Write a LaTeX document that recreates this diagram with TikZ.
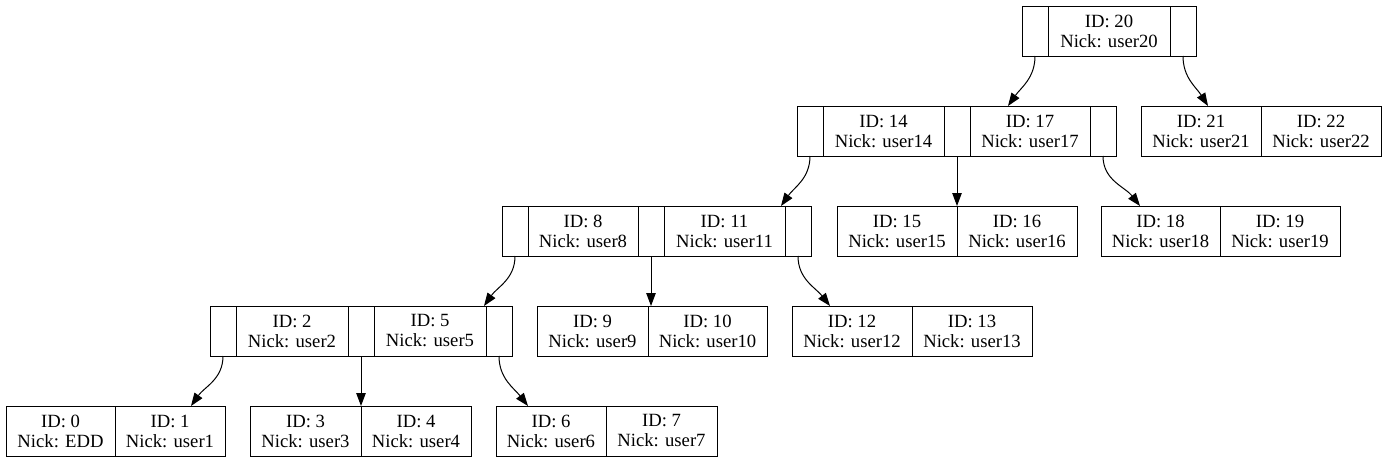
\documentclass[tikz,border=0pt]{standalone}
\usepackage{fontspec}
\setmainfont{Liberation Serif}
\usetikzlibrary{positioning, arrows.meta}

\begin{document}
\begin{tikzpicture}[
    x=1pt, y=-1pt,
    >={Triangle[length=13pt, width=9.5pt]},
    cell/.style={draw, line width=1pt, outer sep=0pt, inner sep=0pt,
                 minimum height=50pt, align=center,
                 font=\fontsize{18.67}{20}\selectfont},
    ptrcell/.style={cell, minimum width=26pt},
    keycell/.style={cell, minimum width=#1pt},
    link/.style={->, line width=1pt}
  ]
    \useasboundingbox (0,0) rectangle (1386,463);

    % --- Raiz ---
    \node[ptrcell, anchor=west] (p20l) at (1022,31) {};
    \node[keycell=122, right=0pt of p20l] (k20) {ID: 20\\Nick: user20};
    \node[ptrcell, right=0pt of k20] (p20r) {};

    % --- Nivel 2 ---
    \node[ptrcell, anchor=west] (p14l) at (797,131) {};
    \node[keycell=121, right=0pt of p14l] (k14) {ID: 14\\Nick: user14};
    \node[ptrcell, right=0pt of k14] (p14r) {};
    \node[keycell=120, right=0pt of p14r] (k17) {ID: 17\\Nick: user17};
    \node[ptrcell, right=0pt of k17] (p17r) {};

    \node[keycell=120, anchor=west] (k21) at (1141,131) {ID: 21\\Nick: user21};
    \node[keycell=120, right=0pt of k21] (k22) {ID: 22\\Nick: user22};

    % --- Nivel 3 ---
    \node[ptrcell, anchor=west] (p8l) at (502,231) {};
    \node[keycell=110, right=0pt of p8l] (k8) {ID: 8\\Nick: user8};
    \node[ptrcell, right=0pt of k8] (p8r) {};
    \node[keycell=121, right=0pt of p8r] (k11) {ID: 11\\Nick: user11};
    \node[ptrcell, right=0pt of k11] (p11r) {};

    \node[keycell=120, anchor=west] (k15) at (837,231) {ID: 15\\Nick: user15};
    \node[keycell=120, right=0pt of k15] (k16) {ID: 16\\Nick: user16};

    \node[keycell=119, anchor=west] (k18) at (1101,231) {ID: 18\\Nick: user18};
    \node[keycell=120, right=0pt of k18] (k19) {ID: 19\\Nick: user19};

    % --- Nivel 4 ---
    \node[ptrcell, anchor=west] (p2l) at (210,331) {};
    \node[keycell=112, right=0pt of p2l] (k2) {ID: 2\\Nick: user2};
    \node[ptrcell, right=0pt of k2] (p2r) {};
    \node[keycell=112, right=0pt of p2r] (k5) {ID: 5\\Nick: user5};
    \node[ptrcell, right=0pt of k5] (p5r) {};

    \node[keycell=111, anchor=west] (k9) at (537,331) {ID: 9\\Nick: user9};
    \node[keycell=119, right=0pt of k9] (k10) {ID: 10\\Nick: user10};

    \node[keycell=120, anchor=west] (k12) at (792,331) {ID: 12\\Nick: user12};
    \node[keycell=120, right=0pt of k12] (k13) {ID: 13\\Nick: user13};

    % --- Folhas ---
    \node[keycell=109, anchor=west] (k0) at (6,431) {ID: 0\\Nick: EDD};
    \node[keycell=110, right=0pt of k0] (k1) {ID: 1\\Nick: user1};

    \node[keycell=111, anchor=west] (k3) at (250,431) {ID: 3\\Nick: user3};
    \node[keycell=110, right=0pt of k3] (k4) {ID: 4\\Nick: user4};

    \node[keycell=110, anchor=west] (k6) at (496,431) {ID: 6\\Nick: user6};
    \node[keycell=111, right=0pt of k6] (k7) {ID: 7\\Nick: user7};

    % --- Ligacoes ---
    \draw[link] (p20l.south) to[out=-90, in=55] ([xshift=38pt]k17.north west);
    \draw[link] (p20r.south) to[out=-90, in=122] ([xshift=67pt]k21.north west);

    \draw[link] (p14l.south) to[out=-90, in=55] ([xshift=-4pt]k11.north east);
    \draw[link] (p14r.south) -- (p14r.south |- k15.north);
    \draw[link] (p17r.south) to[out=-90, in=128] ([xshift=39pt]k18.north west);

    \draw[link] (p8l.south) to[out=-90, in=55] ([xshift=-2pt]k5.north east);
    \draw[link] (p8r.south) -- (p8r.south |- k9.north);
    \draw[link] (p11r.south) to[out=-90, in=128] ([xshift=38pt]k12.north west);

    \draw[link] (p2l.south) to[out=-90, in=55] ([xshift=-34pt]k1.north east);
    \draw[link] (p2r.south) -- (p2r.south |- k3.north);
    \draw[link] (p5r.south) to[out=-90, in=128] ([xshift=32pt]k6.north west);

  \end{tikzpicture}
\end{document}
